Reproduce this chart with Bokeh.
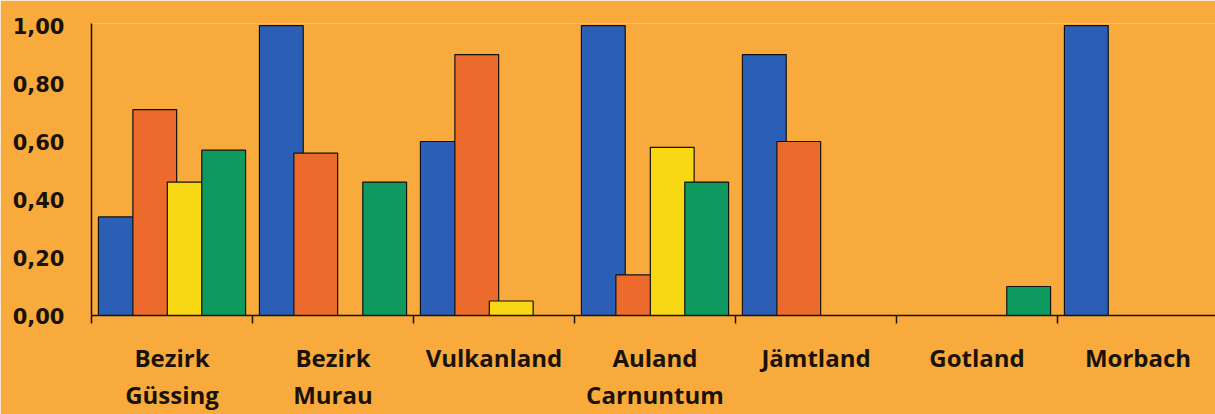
from bokeh.plotting import figure
from bokeh.models import FixedTicker, LinearAxis, Range1d, ColumnDataSource
from bokeh.embed import file_html
from bokeh.resources import INLINE

# ---- data ----
regions_line1 = ["Bezirk", "Bezirk", "Vulkanland", "Auland", "Jämtland", "Gotland", "Morbach"]
regions_line2 = ["Güssing", "Murau", "", "Carnuntum", "", "", ""]
series_blue = [0.34, 1.00, 0.60, 1.00, 0.90, 0.00, 1.00]
series_orange = [0.71, 0.56, 0.90, 0.14, 0.60, 0.00, 0.00]
series_yellow = [0.46, 0.00, 0.05, 0.58, 0.00, 0.00, 0.00]
series_green = [0.57, 0.46, 0.00, 0.46, 0.00, 0.10, 0.00]
y_ticks = [0.0, 0.2, 0.4, 0.6, 0.8, 1.0]
y_tick_labels = ["0,00", "0,20", "0,40", "0,60", "0,80", "1,00"]

# ---- style ----
BG = "#F8AB3C"
INK = "#1a1208"
series = [
    (series_blue, "#2A5FB5", -0.321),
    (series_orange, "#EC6A2C", -0.107),
    (series_yellow, "#F8D814", 0.107),
    (series_green, "#0E9A5E", 0.321),
]
BAR_W = 0.272

n = len(regions_line1)
positions = list(range(1, n + 1))

p = figure(width=1215, height=414, output_backend="svg", toolbar_location=None,
           x_range=Range1d(0.5, 0.5 + 1124 / 161), y_range=Range1d(0, 1.007),
           min_border_left=91, min_border_right=0, min_border_top=23, min_border_bottom=99,
           x_axis_type=None)
p.background_fill_color = BG
p.border_fill_color = BG
p.outline_line_color = None
p.grid.visible = False

for vals, color, off in series:
    src = ColumnDataSource(dict(x=[x + off for x in positions], top=vals))
    p.vbar(x="x", top="top", bottom=0, width=BAR_W, source=src,
           fill_color=color, line_color="#111111", line_width=1.2)

# y axis
ya = p.yaxis[0]
ya.ticker = FixedTicker(ticks=y_ticks)
ya.major_label_overrides = {t: l for t, l in zip(y_ticks, y_tick_labels)}
ya.major_tick_out = 0
ya.major_tick_in = 0
ya.minor_tick_out = 0
ya.minor_tick_in = 0
ya.axis_line_color = INK
ya.axis_line_width = 1.5
ya.major_label_standoff = 27
ya.major_label_text_font = "DejaVu Sans"
ya.major_label_text_font_style = "bold"
ya.major_label_text_font_size = "21px"
ya.major_label_text_color = INK

# x axis line 1 (with separator ticks)
xa1 = LinearAxis(ticker=FixedTicker(ticks=positions, minor_ticks=[x + 0.5 for x in range(0, n + 1)]))
xa1.major_label_overrides = {x: l for x, l in zip(positions, regions_line1)}
xa1.major_tick_out = 0
xa1.major_tick_in = 0
xa1.minor_tick_out = 8
xa1.minor_tick_in = 0
xa1.minor_tick_line_color = INK
xa1.minor_tick_line_width = 1.5
xa1.axis_line_color = INK
xa1.axis_line_width = 1.5
xa1.major_label_standoff = 17
xa1.major_label_text_font = "Open Sans"
xa1.major_label_text_font_style = "bold"
xa1.major_label_text_font_size = "24px"
xa1.major_label_text_color = INK
p.add_layout(xa1, "below")

# x axis line 2
xa2 = LinearAxis(ticker=FixedTicker(ticks=positions))
xa2.major_label_overrides = {x: l for x, l in zip(positions, regions_line2)}
xa2.major_tick_out = 0
xa2.major_tick_in = 0
xa2.minor_tick_out = 0
xa2.minor_tick_in = 0
xa2.axis_line_color = None
xa2.major_label_standoff = 1
xa2.major_label_text_font = "Open Sans"
xa2.major_label_text_font_style = "bold"
xa2.major_label_text_font_size = "24px"
xa2.major_label_text_color = INK
p.add_layout(xa2, "below")

open("out.html", "w").write(file_html(p, INLINE))
